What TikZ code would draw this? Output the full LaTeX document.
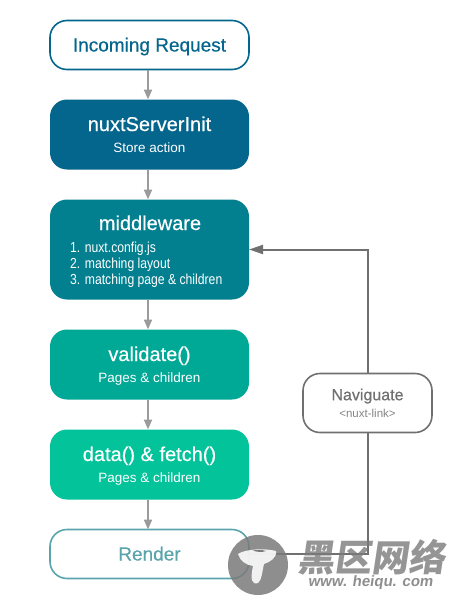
\documentclass[tikz,border=0pt]{standalone}
\usepackage{xcolor}
\usepackage{fontspec}
\setmainfont{Liberation Sans}
\newfontfamily\titlefont[FakeBold=0.45]{Liberation Sans}
\newfontfamily\narrowfont[FakeStretch=0.84]{Liberation Sans}
\newfontfamily\wmfont{Noto Sans CJK SC}
\usetikzlibrary{arrows.meta, positioning}
\definecolor{nuxtblue}{HTML}{05668D}
\definecolor{middleteal}{HTML}{028090}
\definecolor{validgreen}{HTML}{00A896}
\definecolor{datagreen}{HTML}{02C39A}
\definecolor{renderteal}{HTML}{5AA5AC}
\definecolor{navgray}{HTML}{707070}
\definecolor{flowgray}{HTML}{9B9B9B}
\definecolor{wmgray}{HTML}{7A7A7A}
\newcommand{\boxtitle}[1]{{\titlefont\fontsize{20}{21}\selectfont #1}}
\begin{document}
\begin{tikzpicture}[
    x=1pt, y=-1pt,
    node distance=30pt,
    base/.style={rounded corners=17pt, minimum width=199pt, inner sep=0pt, outer sep=0pt, align=center},
    outline/.style={base, draw=#1, line width=1.6pt, fill=white, text=#1, minimum height=49pt, text height=13pt, text depth=0pt, font=\titlefont\fontsize{19}{21}\selectfont},
    solid box/.style={base, fill=#1, text=white, minimum height=70pt, text height=35pt, text depth=0pt, font=\fontsize{13.5}{21}\selectfont},
    flow/.style={draw=flowgray, line width=2pt, -{Triangle[length=10pt, width=8pt]}},
    nav/.style={draw=navgray, line width=2pt},
    navbox/.style={rounded corners=17pt, draw=navgray, line width=1.6pt, fill=white, minimum width=129pt, minimum height=59pt, inner sep=0pt, outer sep=0pt, align=center, text=navgray!85, font=\fontsize{11.5}{17}\selectfont}
]
\useasboundingbox (0,0) rectangle (460,600);
\node[outline=nuxtblue, anchor=north west] (request) at (50,20.5) {Incoming Request};
\node[solid box=nuxtblue, below=30pt of request] (server) {\boxtitle{nuxtServerInit}\\Store action};
\node[solid box=middleteal, minimum height=100pt, below=of server] (middleware) {};
\node[text=white, anchor=base, inner sep=0pt] (middletitle) at (150,230) {\boxtitle{middleware}};
\node[text=white, anchor=north west, inner sep=0pt, align=left, font=\narrowfont\fontsize{14.5}{16}\selectfont] (middlelist) at (70,242) {1. nuxt.config.js\\2. matching layout\\3. matching page \& children};
\node[solid box=validgreen, below=of middleware] (validate) {\boxtitle{validate()}\\Pages \& children};
\node[solid box=datagreen, below=of validate] (data) {\boxtitle{data() \& fetch()}\\Pages \& children};
\node[outline=renderteal, below=of data] (render) {Render};
\node[navbox, anchor=north west] (navigate) at (303,373.5) {{\titlefont\color{navgray}\fontsize{16}{17}\selectfont Naviguate}\\<nuxt-link>};
\coordinate (corner low) at (navigate.south |- render.east);
\coordinate (corner high) at (navigate.north |- middleware.east);
\draw[flow] ([xshift=-1.5pt]request.south) -- ([xshift=-1.5pt]server.north);
\draw[flow] ([xshift=-1.5pt]server.south) -- ([xshift=-1.5pt]middleware.north);
\draw[flow] ([xshift=-1.5pt]middleware.south) -- ([xshift=-1.5pt]validate.north);
\draw[flow] ([xshift=-1.5pt]validate.south) -- ([xshift=-1.5pt]data.north);
\draw[flow] ([xshift=-1.5pt]data.south) -- ([xshift=-1.5pt]render.north);
\draw[nav] (render.east) -- (corner low) -- (navigate.south);
\draw[nav, -{Triangle[length=14pt, width=9pt]}] (navigate.north) -- (corner high) -- (middleware.east);
\fill[wmgray, opacity=0.85] (258,565) circle (30);
\fill[white, opacity=0.88] (238,554) .. controls (245,549) and (265,548) .. (276,551) .. controls (277,558) and (270,562) .. (264,564) .. controls (262,572) and (262,580) .. (258,583) .. controls (252,585) and (250,580) .. (253,566) .. controls (246,565) and (240,561) .. (238,554) -- cycle;
\fill[wmgray] (253,550.5) .. controls (257,549.5) and (264,550) .. (266,551) .. controls (262,552.5) and (256,552) .. (253,550.5) -- cycle;
\node[text=wmgray, opacity=0.8, anchor=center, inner sep=0pt, xslant=0.15, font=\wmfont\bfseries\fontsize{37}{37}\selectfont] (wmtitle) at (374,557) {黑区网络};
\node[text=wmgray, opacity=0.85, anchor=center, inner sep=0pt, xslant=0.15, font=\bfseries\fontsize{15}{15}\selectfont] (wmsite) at (371,583) {www. heiqu. com};
\end{tikzpicture}
\end{document}
